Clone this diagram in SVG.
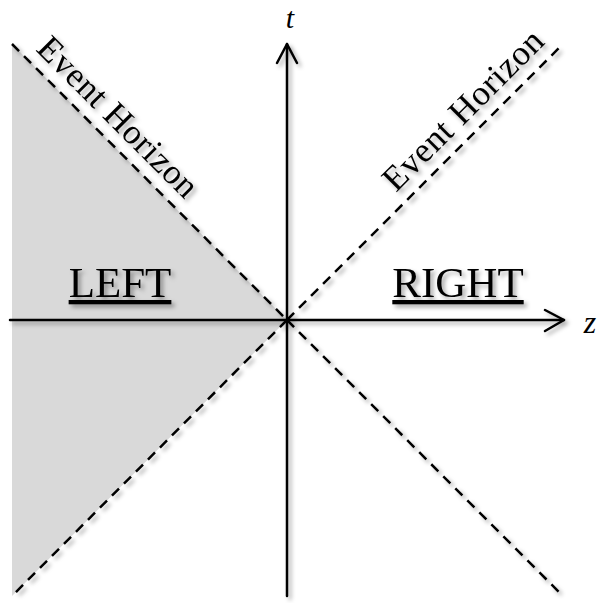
<svg xmlns="http://www.w3.org/2000/svg" width="597" height="603" viewBox="0 0 597 603">
<defs>
<filter id="sh" x="-20%" y="-20%" width="140%" height="140%">
<feDropShadow dx="3" dy="3" stdDeviation="2" flood-color="#000" flood-opacity="0.35"/>
</filter>
</defs>
<style>
.ax{stroke:#000;stroke-width:2.5;fill:none;stroke-linecap:round;stroke-linejoin:round}
.eh{stroke:#000;stroke-width:2.5;fill:none;stroke-dasharray:10 7}
.lbl{font-family:"Liberation Serif","DejaVu Serif",serif;fill:#000}
.var{font-family:"Liberation Serif","DejaVu Serif",serif;font-style:italic;fill:#000}
</style>
<rect width="597" height="603" fill="#fff"/>
<polygon id="left-region" points="12,44 287,320 12,596" fill="#d9d9d9"/>
<g id="connectors" filter="url(#sh)">
<line class="eh" x1="12" y1="44" x2="287" y2="320"/>
<line class="eh" x1="287" y1="320" x2="12" y2="596"/>
<line class="eh" x1="287" y1="320" x2="563" y2="44"/>
<line class="eh" x1="287" y1="320" x2="563" y2="596"/>
<line class="ax" x1="287" y1="596" x2="287" y2="44"/>
<polyline class="ax" points="277,63 287,44 297,63"/>
<line class="ax" x1="10" y1="320" x2="564" y2="320"/>
<polyline class="ax" points="545,310 564,320 545,331"/>
</g>
<g id="t-label"><text class="var" x="290" y="28" font-size="30" text-anchor="middle">t</text></g>
<g id="z-label"><text class="var" x="590" y="333" font-size="32" text-anchor="middle">z</text></g>
<g id="eh-left" filter="url(#sh)"><text class="lbl" x="110" y="125" font-size="35" text-anchor="middle" textLength="212" transform="rotate(45 110 125)">Event Horizon</text></g>
<g id="eh-right" filter="url(#sh)"><text class="lbl" x="471" y="118" font-size="35" text-anchor="middle" textLength="212" transform="rotate(-45 471 118)">Event Horizon</text></g>
<g id="left" filter="url(#sh)"><text class="lbl" x="120" y="297" font-size="43" text-anchor="middle" text-decoration="underline">LEFT</text></g>
<g id="right" filter="url(#sh)"><text class="lbl" x="458" y="297" font-size="43" text-anchor="middle" text-decoration="underline">RIGHT</text></g>
</svg>
